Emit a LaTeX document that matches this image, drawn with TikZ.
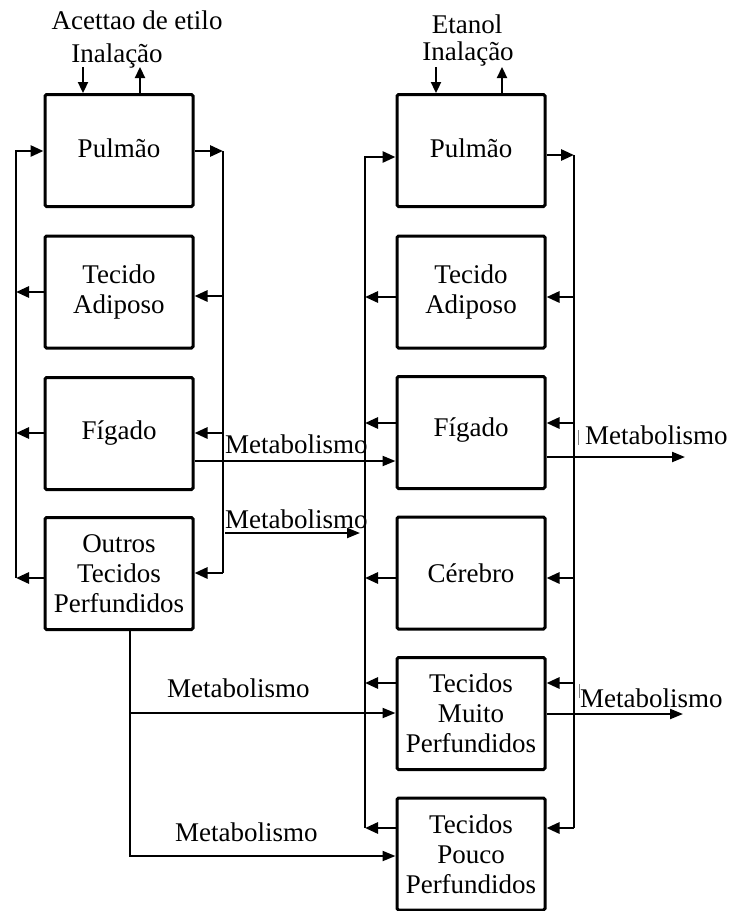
\documentclass[tikz,border=0pt]{standalone}
\usepackage{fontspec}
\setmainfont{Liberation Serif}
\usetikzlibrary{arrows.meta}
\begin{document}
\begin{tikzpicture}[x=1pt,y=-1pt,
  font=\fontsize{27}{30}\selectfont,
  organ/.style={draw, line width=3pt, rounded corners=1.5pt,
    minimum width=148pt, minimum height=112pt, align=center, inner sep=0pt},
  flow/.style={line width=2.8pt, -{Triangle[length=13pt,width=11pt]}},
  bus/.style={line width=2.8pt},
  metab/.style={line width=2.1pt, -{Triangle[length=13pt,width=10pt]}},
  gas/.style={line width=2.3pt, -{Triangle[length=11pt,width=10pt]}},
  lbl/.style={inner sep=0pt, anchor=base west},
  tick/.style={line width=0.7pt, draw=gray}]
\useasboundingbox (0,0) rectangle (730,911);

% ---------- ethyl acetate model ----------
\node[organ] (lPul) at (119,150.5) {\raisebox{5pt}{Pulmão}};
\node[organ] (lAdi) at (119,292) {Tecido\\Adiposo};
\node[organ] (lFig) at (119,433.5) {\raisebox{5pt}{Fígado}};
\node[organ] (lOut) at (119,573.5) {Outros\\Tecidos\\Perfundidos};

\node[inner sep=0pt, anchor=base] (lSub) at (137,29) {Acettao de etilo};
\node[inner sep=0pt, anchor=base] (lInh) at (117,62) {Inalação};
\coordinate (lIn)  at (83,67);
\coordinate (lOutGas) at (140,67);
\draw[gas] (lIn) -- (lIn |- lPul.north);
\draw[gas] (lOutGas |- lPul.north) -- (lOutGas);

% return and supply lines
\coordinate (lbL) at (16,0);
\coordinate (lbR) at (223,0);
\draw[flow] (lbL |- 0,578) -- (lbL |- 0,151) -- (lPul.west |- 0,151);
\draw[flow] (lPul.east |- 0,151) -- (lbR |- 0,151);
\draw[bus] (lbR |- 0,151) -- (lbR |- 0,573);

\draw[flow] (lAdi.west |- 0,292) -- (lbL |- 0,292);
\draw[flow] (lbR |- 0,296) -- (lAdi.east |- 0,296);
\draw[flow] (lFig.west |- 0,433) -- (lbL |- 0,433);
\draw[flow] (lbR |- 0,433) -- (lFig.east |- 0,433);
\draw[flow] (lOut.west |- 0,578) -- (lbL |- 0,578);
\draw[flow] (lbR |- 0,573) -- (lOut.east |- 0,573);

% ---------- ethanol model ----------
\node[organ] (rPul) at (471,150.5) {\raisebox{4pt}{Pulmão}};
\node[organ] (rAdi) at (471,292) {Tecido\\Adiposo};
\node[organ] (rFig) at (471,432.5) {\raisebox{10pt}{Fígado}};
\node[organ] (rCer) at (471,573) {Cérebro};
\node[organ] (rMui) at (471,713.5) {Tecidos\\Muito\\Perfundidos};
\node[organ] (rPou) at (471,854) {Tecidos\\Pouco\\Perfundidos};

\node[inner sep=0pt, anchor=base] (rSub) at (467,33) {Etanol};
\node[inner sep=0pt, anchor=base] (rInh) at (468,60) {Inalação};
\coordinate (rIn)  at (436,67);
\coordinate (rOutGas) at (502,67);
\draw[gas] (rIn) -- (rIn |- rPul.north);
\draw[gas] (rOutGas |- rPul.north) -- (rOutGas);

\coordinate (rbL) at (365,0);
\coordinate (rbR) at (574,0);
\draw[flow] (rbL |- 0,828) -- (rbL |- 0,157) -- (rPul.west |- 0,157);
\draw[flow] (rPul.east |- 0,155) -- (rbR |- 0,155);
\draw[bus] (rbR |- 0,155) -- (rbR |- 0,828);

\foreach \org/\yy in {rAdi/297, rFig/423, rCer/578, rMui/683, rPou/828}{
  \draw[flow] (\org.west |- 0,\yy) -- (rbL |- 0,\yy);
  \draw[flow] (rbR |- 0,\yy) -- (\org.east |- 0,\yy);
}

% ---------- metabolism ----------
\coordinate (m1) at (0,461);
\coordinate (m2s) at (225,533);
\coordinate (m2e) at (360,533);
\coordinate (drop) at (130,0);
\coordinate (m3) at (0,713);
\coordinate (m4) at (0,856);
\coordinate (m5) at (685,457);
\coordinate (m6) at (683,714);

\draw[metab] (lFig.east |- m1) -- (rFig.west |- m1);
\node[lbl] (t1) at (225,453) {Metabolismo};
\draw[metab] (m2s) -- (m2e);
\node[lbl] (t2) at (225,528) {Metabolismo};

\draw[metab] (drop |- lOut.south) |- (rPou.west |- m4);
\draw[metab] (drop |- m3) -- (rMui.west |- m3);
\node[lbl] (t3) at (167,697) {Metabolismo};
\node[lbl] (t4) at (175,841) {Metabolismo};

\draw[metab] (rFig.east |- m5) -- (m5);
\node[lbl] (t5) at (585,444) {Metabolismo};
\draw[tick] (578,430) -- (578,445);
\draw[metab] (rMui.east |- m6) -- (m6);
\node[lbl] (t6) at (580,707) {Metabolismo};
\draw[tick] (579,684) -- (579,698);
\end{tikzpicture}
\end{document}
